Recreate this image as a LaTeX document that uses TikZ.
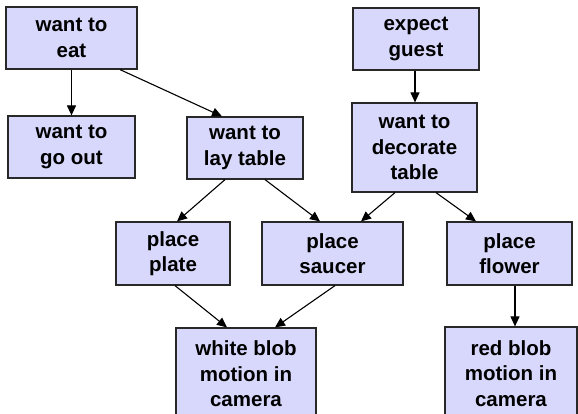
\documentclass[tikz,border=0pt]{standalone}
\usepackage{fontspec}
\setmainfont{Liberation Sans}
\usetikzlibrary{arrows.meta}
\definecolor{boxfill}{RGB}{216,216,252}
\definecolor{boxline}{RGB}{40,40,40}
\begin{document}
\begin{tikzpicture}[x=1pt,y=-1pt,
  box/.style={draw=boxline,fill=boxfill,line width=1.2pt,inner sep=0pt,align=center,
    font=\bfseries\fontsize{20.5}{25.5}\selectfont},
  arr/.style={line width=1.1pt,-{Triangle[length=10pt,width=9pt]}}]
\useasboundingbox (0,0) rectangle (578,414);
\begin{scope}
\clip (0,0) rectangle (578,414);
\node[box,minimum width=131pt,minimum height=62pt] (eat) at (71.5,38) {want to\\eat};
\node[box,minimum width=127pt,minimum height=62pt] (goout) at (71.5,147) {want to\\go out};
\node[box,minimum width=116pt,minimum height=62pt] (lay) at (245,148) {want to\\lay table};
\node[box,minimum width=126pt,minimum height=62pt] (expect) at (416,39) {expect\\guest};
\node[box,minimum width=125pt,minimum height=89pt] (deco) at (414.5,147.5) {want to\\decorate\\table};
\node[box,minimum width=114pt,minimum height=63pt] (plate) at (173,253.5) {place\\plate};
\node[box,minimum width=141pt,minimum height=63pt] (saucer) at (332.5,253.5) {place\\saucer};
\node[box,minimum width=125pt,minimum height=63pt] (flower) at (509.5,253.5) {place\\flower};
\node[box,minimum width=140pt,minimum height=92pt] (white) at (246,374) {white blob\\motion in\\camera};
\node[box,minimum width=132pt,minimum height=93pt] (red) at (511,373.5) {red blob\\motion in\\camera};

\draw[arr] (eat.south) -- (goout.north);
\draw[arr] ([xshift=48.5pt]eat.south) -- ([xshift=-23pt]lay.north);
\draw[arr] ([xshift=-1pt]expect.south) -- ([xshift=0.5pt]deco.north);
\draw[arr] ([xshift=-20pt]lay.south) -- ([xshift=4pt]plate.north);
\draw[arr] ([xshift=20pt]lay.south) -- ([xshift=-12.5pt]saucer.north);
\draw[arr] ([xshift=-19.5pt]deco.south) -- ([xshift=28.5pt]saucer.north);
\draw[arr] ([xshift=21.5pt]deco.south) -- ([xshift=-33.5pt]flower.north);
\draw[arr] ([xshift=2pt]plate.south) -- ([xshift=-19pt]white.north);
\draw[arr] ([xshift=2.5pt]saucer.south) -- ([xshift=29pt]white.north);
\draw[arr] ([xshift=5.5pt]flower.south) -- ([xshift=4pt]red.north);
\end{scope}
\end{tikzpicture}
\end{document}
